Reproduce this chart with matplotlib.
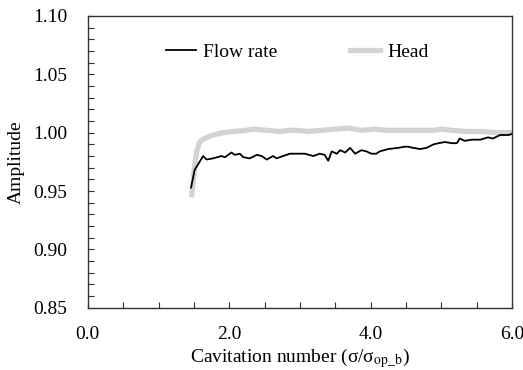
import numpy as np
import matplotlib.pyplot as plt
from matplotlib.ticker import MultipleLocator, FormatStrFormatter

plt.rcParams['font.family'] = ['Liberation Serif', 'DejaVu Serif']
plt.rcParams['mathtext.fontset'] = 'stix'

# Flow rate amplitude vs cavitation number
flow_x = [1.46, 1.51, 1.58, 1.63, 1.68, 1.77, 1.89, 1.94, 2.03, 2.08, 2.15, 2.20,
          2.29, 2.39, 2.46, 2.53, 2.62, 2.67, 2.76, 2.86, 2.98, 3.07, 3.19, 3.28,
          3.35, 3.40, 3.45, 3.52, 3.57, 3.64, 3.71, 3.78, 3.87, 3.94, 4.01, 4.08,
          4.13, 4.25, 4.39, 4.48, 4.53, 4.60, 4.70, 4.79, 4.89, 4.96, 5.05, 5.15,
          5.22, 5.26, 5.33, 5.43, 5.55, 5.66, 5.73, 5.83, 5.90, 5.95, 6.00]
flow_y = [0.953, 0.968, 0.975, 0.980, 0.977, 0.978, 0.980, 0.979, 0.983, 0.981,
          0.982, 0.979, 0.978, 0.981, 0.980, 0.977, 0.980, 0.978, 0.980, 0.982,
          0.982, 0.982, 0.980, 0.982, 0.981, 0.976, 0.984, 0.982, 0.985, 0.983,
          0.987, 0.982, 0.985, 0.984, 0.982, 0.982, 0.984, 0.986, 0.987, 0.988,
          0.988, 0.987, 0.986, 0.987, 0.990, 0.991, 0.992, 0.991, 0.991, 0.995,
          0.993, 0.994, 0.994, 0.996, 0.995, 0.998, 0.998, 0.998, 0.999]

# Head amplitude vs cavitation number
head_x = [1.47, 1.49, 1.51, 1.54, 1.58, 1.65, 1.77, 1.91, 2.06, 2.24, 2.34, 2.53,
          2.72, 2.86, 2.98, 3.11, 3.31, 3.50, 3.68, 3.87, 4.06, 4.25, 4.44, 4.65,
          4.89, 5.00, 5.15, 5.36, 5.59, 5.78, 5.92, 6.00]
head_y = [0.947, 0.958, 0.972, 0.984, 0.992, 0.995, 0.998, 1.000, 1.001, 1.002,
          1.003, 1.002, 1.001, 1.002, 1.002, 1.001, 1.002, 1.003, 1.004, 1.002,
          1.003, 1.002, 1.002, 1.002, 1.002, 1.003, 1.002, 1.001, 1.001, 1.000,
          1.000, 1.000]

fig = plt.figure(figsize=(5.23, 3.7), dpi=100)
ax = fig.add_axes([0.168, 0.168, 0.811, 0.789])

ax.plot(flow_x, flow_y, color='black', lw=1.3, label='Flow rate', zorder=3)
ax.plot(head_x, head_y, color='#d3d3d3', lw=3.8, label='Head', zorder=2)

ax.set_xlim(0, 6)
ax.set_ylim(0.85, 1.10)
ax.xaxis.set_major_locator(MultipleLocator(2))
ax.xaxis.set_minor_locator(MultipleLocator(0.5))
ax.yaxis.set_major_locator(MultipleLocator(0.05))
ax.yaxis.set_minor_locator(MultipleLocator(0.01))
ax.xaxis.set_major_formatter(FormatStrFormatter('%.1f'))
ax.yaxis.set_major_formatter(FormatStrFormatter('%.2f'))

ax.tick_params(which='both', direction='in', length=4, width=0.8, labelsize=14,
               color='#333333')
ax.tick_params(axis='y', pad=15)
ax.tick_params(axis='x', pad=13)
for s in ax.spines.values():
    s.set_color('#333333')
    s.set_linewidth(1)

ax.set_ylabel('Amplitude', fontsize=14, labelpad=6)
ax.set_xlabel(r'Cavitation number (σ/σ$_{\mathrm{op\_b}}$)', fontsize=14, labelpad=2)

ax.legend(loc='center', bbox_to_anchor=(0.494, 0.877), ncol=2, frameon=False,
          fontsize=14, handlelength=1.55, columnspacing=3.75, handletextpad=0.36)

fig.savefig('out.png', dpi=100)
